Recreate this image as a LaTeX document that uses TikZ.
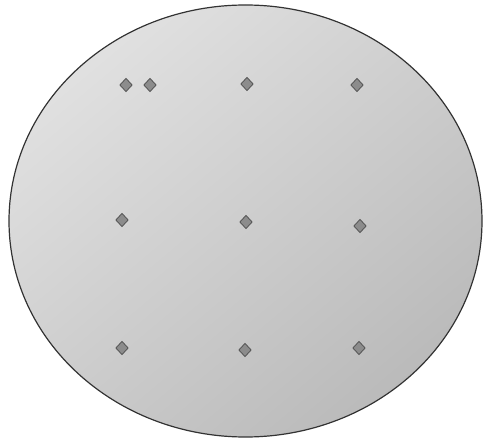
\documentclass[tikz,border=0pt]{standalone}
\usetikzlibrary{shapes.geometric}
\begin{document}
\begin{tikzpicture}[x=1pt,y=-1pt,
  dot/.style={diamond,draw=black!65,fill=black!45,line width=0.9pt,inner sep=0pt,minimum width=12.5pt,minimum height=13.5pt}]
\useasboundingbox (0,0) rectangle (483,441);
\node[ellipse,draw=black!80,line width=1.2pt,minimum width=473pt,minimum height=432pt,
  shading=axis,top color=black!12,bottom color=black!27,shading angle=40] (plate) at (245.5,221) {};
\node[dot] (a1) at (126,85) {};
\node[dot] (a2) at (150,85) {};
\node[dot] (a3) at (247,84) {};
\node[dot] (a4) at (357,85) {};
\node[dot] (b1) at (122,220) {};
\node[dot] (b2) at (246,222) {};
\node[dot] (b3) at (360,226) {};
\node[dot] (c1) at (122,348) {};
\node[dot] (c2) at (245,350) {};
\node[dot] (c3) at (359,348) {};
\end{tikzpicture}
\end{document}
